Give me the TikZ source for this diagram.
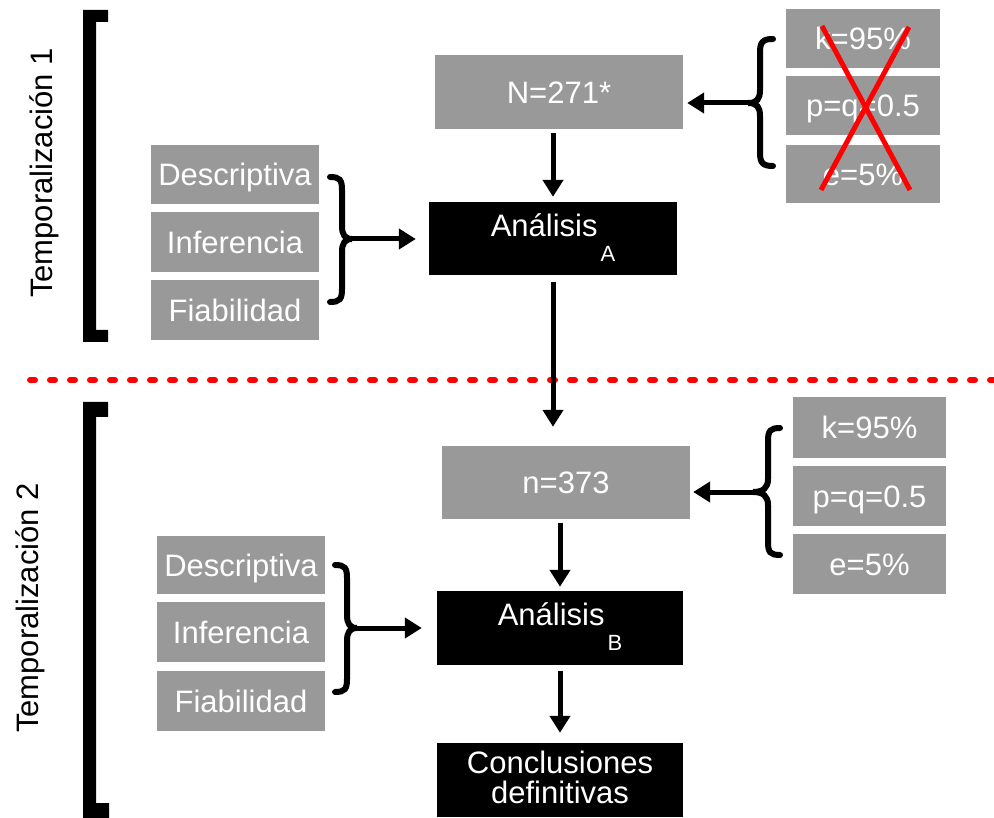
\documentclass[tikz,border=0pt]{standalone}
\usepackage{fontspec}
\setmainfont{Liberation Sans}
\usetikzlibrary{arrows.meta}
\definecolor{boxgray}{RGB}{153,153,153}
\definecolor{xred}{RGB}{255,0,0}
\newcommand\diagfont{\fontsize{31}{30}\selectfont}
\newcommand\subfont{\fontsize{22}{22}\selectfont}

\begin{document}
\begin{tikzpicture}[x=1pt,y=-1pt,
  txt/.style={font=\diagfont, inner sep=0pt, text height=22.2pt, text depth=0pt},
  gbox/.style={txt, rectangle, fill=boxgray, text=white},
  bbox/.style={txt, rectangle, fill=black, text=white},
  arr/.style={line width=5pt, -{Triangle[width=20pt,length=17pt]}},
  brace/.style={line width=6pt, line cap=round},
  bar/.style={fill=black},
  cross/.style={xred, line width=5pt},
  sep/.style={xred, line width=6pt, line cap=round, dash pattern=on 5pt off 15pt}]
\useasboundingbox (0,0) rectangle (994,818);

% ---------- Temporalización 1 ----------
\fill[bar] (83,10) -- (108,10) -- (108,22) -- (96,22) -- (96,330) -- (108,330)
  -- (108,342) -- (83,342) -- cycle;
\node[txt, rotate=90] (t1) at (41,173) {Temporalización 1};

\node[gbox, minimum width=248pt, minimum height=74pt] (N271) at (559,92) {N=271*};
\node[bbox, minimum width=248pt, minimum height=73pt, text depth=25.2pt] (anaA) at (553,238.5)
  {Análisis\kern3pt\raisebox{-25pt}{\subfont A}};

\node[gbox, minimum width=154pt, minimum height=59pt] (k1) at (863,38.5) {k=95\%};
\node[gbox, minimum width=154pt, minimum height=59pt] (p1) at (863,105.5) {p=q=0.5};
\node[gbox, minimum width=154pt, minimum height=58pt] (e1) at (863,174) {e=5\%};

\node[gbox, minimum width=168pt, minimum height=59pt] (desc1) at (235,174.5) {Descriptiva};
\node[gbox, minimum width=168pt, minimum height=60pt] (inf1) at (235,242) {Inferencia};
\node[gbox, minimum width=168pt, minimum height=60pt] (fia1) at (235,310) {Fiabilidad};

% crossed-out parameters
\draw[cross] (822,26) -- (910,190);
\draw[cross] (909,27) -- (821,190);

% braces
\draw[brace] (773,39) .. controls (763,39) and (760,42) .. (760,52) -- (760,90)
  .. controls (760,99) and (757,103) .. (748,103)
  .. controls (757,103) and (760,107) .. (760,116) -- (760,153)
  .. controls (760,163) and (763,166) .. (773,166);
\coordinate (bN) at (748,103);
\draw[brace] (330,177) .. controls (340,177) and (342,180) .. (342,190) -- (342,226)
  .. controls (342,235) and (345,239) .. (352,239)
  .. controls (345,239) and (342,243) .. (342,252) -- (342,289)
  .. controls (342,299) and (340,302) .. (330,302);
\coordinate (bA) at (352,239);

\draw[arr, shorten >=4pt] (bN) -- (bN -| N271.east);
\draw[arr, shorten >=13pt] (bA) -- (bA -| anaA.west);
\draw[arr, shorten <=4pt, shorten >=5pt] (N271.south -| anaA.north) -- (anaA.north);

% ---------- separator ----------
\coordinate (sepL) at (30,380);
\coordinate (sepR) at (994,380);
\draw[sep] (sepL) -- (sepR);

% ---------- Temporalización 2 ----------
\fill[bar] (83,402) -- (108,402) -- (108,417) -- (96,417) -- (96,803) -- (109,803)
  -- (109,818) -- (83,818) -- cycle;
\node[txt, rotate=90] (t2) at (27,608) {Temporalización 2};

\node[gbox, minimum width=248pt, minimum height=73pt] (n373) at (566,482.5) {n=373};
\node[bbox, minimum width=246pt, minimum height=74pt, text depth=28.2pt] (anaB) at (560,628)
  {Análisis\kern3pt\raisebox{-25pt}{\subfont B}};
\node[bbox, minimum width=246pt, minimum height=74pt, align=center,
  text height=52.2pt, text depth=6pt] (concl) at (560,780)
  {Conclusiones\\definitivas};

\node[gbox, minimum width=153pt, minimum height=61pt] (k2) at (869.5,427.5) {k=95\%};
\node[gbox, minimum width=153pt, minimum height=60pt] (p2) at (869.5,496) {p=q=0.5};
\node[gbox, minimum width=153pt, minimum height=60pt] (e2) at (869.5,564) {e=5\%};

\node[gbox, minimum width=168pt, minimum height=58pt] (desc2) at (241,565) {Descriptiva};
\node[gbox, minimum width=168pt, minimum height=60pt] (inf2) at (241,632) {Inferencia};
\node[gbox, minimum width=168pt, minimum height=60pt] (fia2) at (241,701) {Fiabilidad};

\draw[brace] (780,428) .. controls (770,428) and (768,431) .. (768,441) -- (768,479)
  .. controls (768,488) and (763,492) .. (753,492)
  .. controls (763,492) and (768,496) .. (768,505) -- (768,542)
  .. controls (768,552) and (770,555) .. (780,555);
\coordinate (bn) at (753,492);
\draw[brace] (335,565) .. controls (345,565) and (347,568) .. (347,578) -- (347,615)
  .. controls (347,624) and (350,628) .. (357,628)
  .. controls (350,628) and (347,632) .. (347,641) -- (347,679)
  .. controls (347,689) and (345,692) .. (335,692);
\coordinate (bB) at (357,628);

\draw[arr, shorten >=3pt] (bn) -- (bn -| n373.east);
\draw[arr, shorten >=15pt] (bB) -- (bB -| anaB.west);

% main flow
\draw[arr, shorten <=7pt, shorten >=19pt] (anaA.south) -- (anaA.south |- n373.north);
\draw[arr, shorten <=4pt, shorten >=4pt] (n373.south -| anaB.north) -- (anaB.north);
\draw[arr, shorten <=6pt, shorten >=10pt] (anaB.south) -- (concl.north);
\end{tikzpicture}
\end{document}
